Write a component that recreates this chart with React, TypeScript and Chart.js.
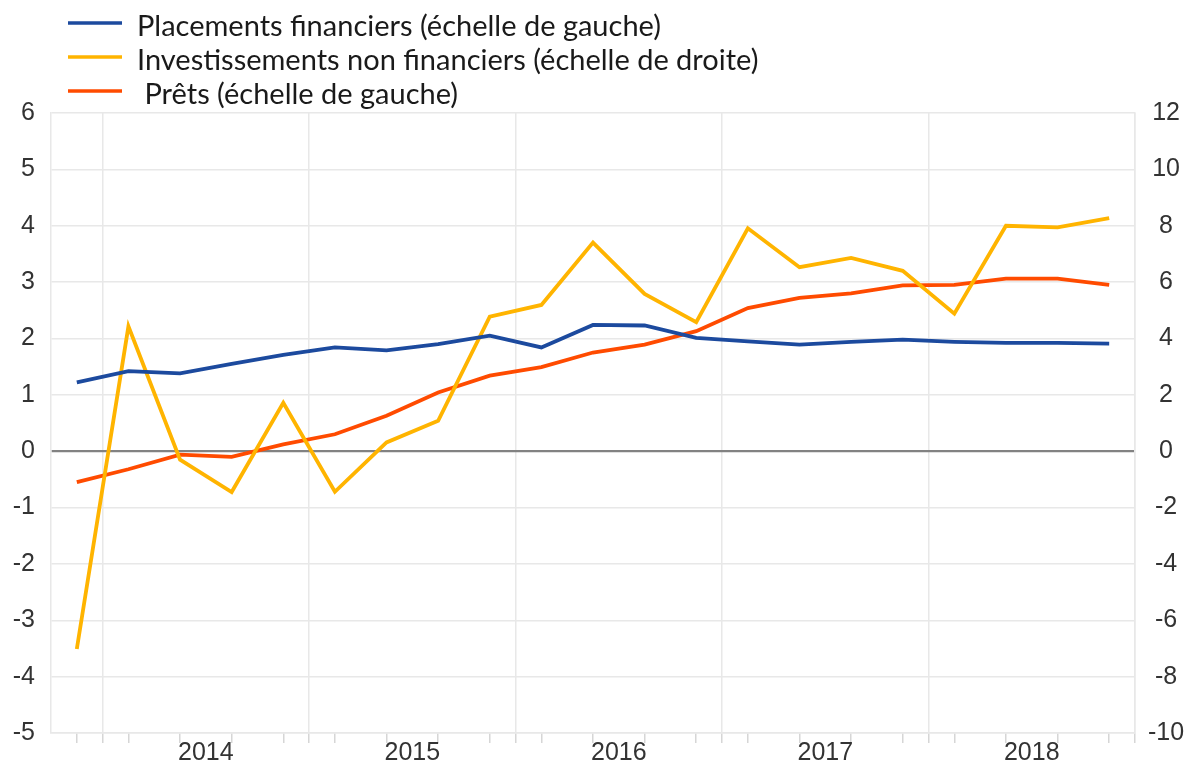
import React, { useEffect, useRef } from 'react';
import { Chart, registerables } from 'chart.js';

Chart.register(...registerables);

// Quarterly observations, Q4 2013 .. Q4 2018
const quarters = [
  'T4 2013',
  'T1 2014', 'T2 2014', 'T3 2014', 'T4 2014',
  'T1 2015', 'T2 2015', 'T3 2015', 'T4 2015',
  'T1 2016', 'T2 2016', 'T3 2016', 'T4 2016',
  'T1 2017', 'T2 2017', 'T3 2017', 'T4 2017',
  'T1 2018', 'T2 2018', 'T3 2018', 'T4 2018',
];
const years = ['2014', '2015', '2016', '2017', '2018'];

// Placements financiers (échelle de gauche)
const placements = [1.22, 1.42, 1.38, 1.55, 1.71, 1.84, 1.79, 1.9, 2.05, 1.84, 2.24, 2.23, 2.01, 1.95, 1.89, 1.94, 1.98, 1.94, 1.92, 1.92, 1.91];
// Investissements non financiers (échelle de droite)
const investissements = [-7.02, 4.43, -0.3, -1.45, 1.72, -1.44, 0.31, 1.08, 4.77, 5.19, 7.4, 5.58, 4.58, 7.91, 6.53, 6.86, 6.4, 4.88, 8.0, 7.94, 8.27];
// Prêts (échelle de gauche)
const prets = [-0.55, -0.32, -0.06, -0.1, 0.12, 0.3, 0.63, 1.04, 1.34, 1.49, 1.75, 1.89, 2.13, 2.54, 2.72, 2.8, 2.94, 2.95, 3.06, 3.06, 2.95];

const seriesNames = [
  'Placements financiers (échelle de gauche)',
  'Investissements non financiers (échelle de droite)',
  ' Prêts (échelle de gauche)',
];
const seriesColors = ['#1c4a9e', '#ffb400', '#ff4b00'];

const leftMin = -5;
const leftMax = 6;
const rightMin = -10;
const rightMax = 12;

const GRID = '#e8e8e8';
const TICKC = '#d6d6d6';

const isBoundary = (v: number) => {
  const k = v - 0.5;
  return Number.isInteger(k) && k >= 0 && k % 4 === 0;
};
const isYearCenter = (v: number) => {
  const k = v - 2.5;
  return Number.isInteger(k) && k >= 0 && k % 4 === 0;
};

const legendPlugin = {
  id: 'stackedLegend',
  afterDraw(chart: any) {
    const ctx = chart.ctx as CanvasRenderingContext2D;
    ctx.save();
    const rows = [23, 57, 91];
    chart.data.datasets.forEach((ds: any, i: number) => {
      const y = rows[i];
      ctx.strokeStyle = ds.borderColor;
      ctx.lineWidth = 3.5;
      ctx.beginPath();
      ctx.moveTo(68, y);
      ctx.lineTo(122, y);
      ctx.stroke();
      ctx.fillStyle = '#1a1a1a';
      ctx.font = '29px Lato, "Open Sans", sans-serif';
      ctx.textAlign = 'left';
      ctx.textBaseline = 'alphabetic';
      ctx.fillText(ds.label, 137, y + 12.5);
    });
    ctx.restore();
  },
};

export default function App() {
  const canvasRef = useRef<HTMLCanvasElement | null>(null);

  useEffect(() => {
    if (!canvasRef.current) return;
    const tickFont = { family: '"Liberation Sans", Arial, sans-serif', size: 25 };
    const lineWidth = 3.8;
    const chart = new Chart(canvasRef.current, {
      type: 'line',
      data: {
        datasets: [
          {
            label: seriesNames[0],
            data: placements.map((v, i) => ({ x: i, y: v })),
            borderColor: seriesColors[0],
            backgroundColor: seriesColors[0],
            borderWidth: lineWidth,
            pointRadius: 0,
            tension: 0,
            yAxisID: 'y',
          },
          {
            label: seriesNames[1],
            data: investissements.map((v, i) => ({ x: i, y: v })),
            borderColor: seriesColors[1],
            backgroundColor: seriesColors[1],
            borderWidth: lineWidth,
            pointRadius: 0,
            tension: 0,
            yAxisID: 'y1',
          },
          {
            label: seriesNames[2],
            data: prets.map((v, i) => ({ x: i, y: v })),
            borderColor: seriesColors[2],
            backgroundColor: seriesColors[2],
            borderWidth: lineWidth,
            pointRadius: 0,
            tension: 0,
            yAxisID: 'y',
          },
        ],
      },
      options: {
        animation: false,
        responsive: true,
        maintainAspectRatio: false,
        layout: { padding: { top: 113, left: 0, right: 0, bottom: 0 } },
        plugins: {
          legend: { display: false },
          tooltip: { enabled: false },
        },
        scales: {
          x: {
            type: 'linear',
            min: -0.5,
            max: quarters.length - 0.5,
            afterBuildTicks: (scale: any) => {
              const t: { value: number }[] = [];
              for (let i = 0; i < quarters.length; i++) t.push({ value: i });
              for (let k = 0; k <= years.length; k++) t.push({ value: 0.5 + 4 * k });
              for (let k = 0; k < years.length; k++) t.push({ value: 2.5 + 4 * k });
              t.sort((a, b) => a.value - b.value);
              scale.ticks = t;
            },
            afterFit: (scale: any) => {
              scale.height = 32;
            },
            ticks: {
              autoSkip: false,
              maxRotation: 0,
              minRotation: 0,
              padding: -5,
              color: '#333333',
              font: tickFont,
              callback: (value: any) => {
                const v = Number(value);
                if (isYearCenter(v)) return years[(v - 2.5) / 4];
                return '';
              },
            },
            grid: {
              drawOnChartArea: true,
              tickLength: 10,
              color: (c: any) => (c.tick && isBoundary(c.tick.value) ? GRID : 'rgba(0,0,0,0)'),
              tickColor: (c: any) => (c.tick && isYearCenter(c.tick.value) ? 'rgba(0,0,0,0)' : TICKC),
              lineWidth: 1.5,
            },
            border: { display: true, color: GRID, width: 1.5 },
          },
          y: {
            type: 'linear',
            position: 'left',
            min: leftMin,
            max: leftMax,
            afterFit: (scale: any) => {
              scale.width = 51;
            },
            ticks: {
              stepSize: 1,
              padding: 16,
              color: '#333333',
              font: tickFont,
            },
            grid: {
              drawTicks: false,
              color: (c: any) => (c.tick && c.tick.value === 0 ? '#828282' : GRID),
              lineWidth: (c: any) => (c.tick && c.tick.value === 0 ? 2.2 : 1.5),
            },
            border: { display: true, color: GRID, width: 1.5 },
          },
          y1: {
            type: 'linear',
            position: 'right',
            min: rightMin,
            max: rightMax,
            afterFit: (scale: any) => {
              scale.width = 57;
            },
            ticks: {
              stepSize: 2,
              padding: 13,
              crossAlign: 'center',
              color: '#333333',
              font: tickFont,
            },
            grid: { drawOnChartArea: false, drawTicks: false },
            border: { display: true, color: GRID, width: 1.5 },
          },
        },
      },
      plugins: [legendPlugin],
    } as any);
    return () => chart.destroy();
  }, []);

  return (
    <div style={{ position: 'fixed', left: 0, top: 0, width: 1192, height: 765, background: '#ffffff' }}>
      <canvas ref={canvasRef} />
    </div>
  );
}
